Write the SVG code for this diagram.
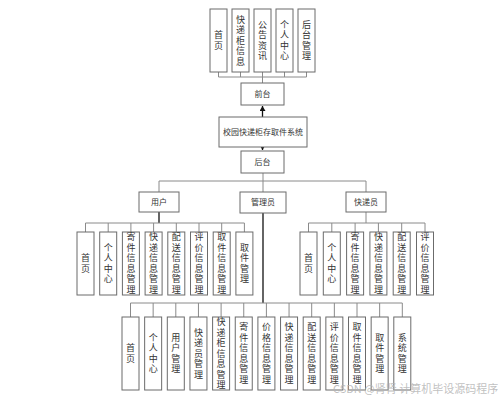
<svg xmlns="http://www.w3.org/2000/svg" width="499" height="400" viewBox="0 0 499 400">
<defs>
<style>
.b{fill:#fff;stroke:#6b6b6b;stroke-width:1}
.t{font-family:"Noto Sans CJK SC","Noto Sans",sans-serif;font-size:8px;fill:#333;text-anchor:middle}
.v{font-family:"Noto Sans CJK SC","Noto Sans",sans-serif;font-size:9px;fill:#333;text-anchor:middle;writing-mode:vertical-rl;letter-spacing:1.5px}
.l{fill:none;stroke:#8a8a8a;stroke-width:1}
.k{fill:none;stroke:#111;stroke-width:1.3}
.wm{font-family:"Noto Sans CJK SC","Noto Sans",sans-serif;font-size:11px;fill:#b4b4b4;fill-opacity:0.85}
</style>
<marker id="ah" markerWidth="6" markerHeight="6" refX="5" refY="3" orient="auto" markerUnits="userSpaceOnUse">
<path d="M0,0 L5,3 L0,6 Z" fill="#111"/>
</marker>
</defs>
<rect width="499" height="400" fill="#fff"/>

<g id="connectors">
<path class="l" d="M218.5,72V77M240.5,72V77M262.5,72V77M284.5,72V77M306.5,72V77M218.5,77H306.5M262.5,77V83"/>
<path class="k" d="M262.5,117V106" marker-end="url(#ah)"/>
<path class="k" d="M262.5,147V150" marker-end="url(#ah)"/>
<path class="l" d="M263,173V192M159,181H366M159,181V192M366,181V192"/>
<path class="k" d="M159,212V223"/>
<path class="l" d="M85.5,223H244.4M85.5,223V232M108.2,223V232M130.9,223V232M153.6,223V232M176.3,223V232M199,223V232M221.7,223V232M244.4,223V232"/>
<path class="l" d="M366,212V223M308.5,223H425M308.5,223V232M331.8,223V232M355.1,223V232M378.4,223V232M401.7,223V232M425,223V232"/>
<path class="k" d="M263,213V303"/>
<path class="l" d="M130.5,303H402.3M130.5,303V317M153.15,303V317M175.8,303V317M198.45,303V317M221.1,303V317M243.75,303V317M266.4,303V317M289.05,303V317M311.7,303V317M334.35,303V317M357,303V317M379.65,303V317M402.3,303V317"/>
</g>

<g id="top-shouye"><rect class="b" x="210" y="9" width="17" height="63"/><text class="v" x="218.5" y="41">首页</text></g>
<g id="top-kuaidigui"><rect class="b" x="232" y="9" width="17" height="63"/><text class="v" x="240.5" y="41">快递柜信息</text></g>
<g id="top-gonggao"><rect class="b" x="254" y="9" width="17" height="63"/><text class="v" x="262.5" y="41">公告资讯</text></g>
<g id="top-geren"><rect class="b" x="276" y="9" width="17" height="63"/><text class="v" x="284.5" y="41">个人中心</text></g>
<g id="top-houtai"><rect class="b" x="298" y="9" width="17" height="63"/><text class="v" x="306.5" y="41">后台管理</text></g>

<g id="qiantai"><rect class="b" x="241" y="83" width="43" height="22"/><text class="t" x="262.5" y="96.8">前台</text></g>
<g id="system"><rect class="b" x="219" y="117" width="88" height="30"/><text class="t" x="263" y="134.8">校园快递柜存取件系统</text></g>
<g id="houtai"><rect class="b" x="241" y="151" width="43" height="22"/><text class="t" x="262.5" y="164.8">后台</text></g>

<g id="yonghu"><rect class="b" x="139" y="192" width="40" height="20"/><text class="t" x="159" y="204.8">用户</text></g>
<g id="guanliyuan"><rect class="b" x="240" y="192" width="46" height="21"/><text class="t" x="263" y="205.3">管理员</text></g>
<g id="kuaidiyuan"><rect class="b" x="346" y="192" width="40" height="20"/><text class="t" x="366" y="204.8">快递员</text></g>

<g id="u1"><rect class="b" x="77" y="232" width="17" height="63"/><text class="v" x="85.5" y="264">首页</text></g>
<g id="u2"><rect class="b" x="99.7" y="232" width="17" height="63"/><text class="v" x="108.2" y="264">个人中心</text></g>
<g id="u3"><rect class="b" x="122.4" y="232" width="17" height="63"/><text class="v" x="130.9" y="264">寄件信息管理</text></g>
<g id="u4"><rect class="b" x="145.1" y="232" width="17" height="63"/><text class="v" x="153.6" y="264">快递信息管理</text></g>
<g id="u5"><rect class="b" x="167.8" y="232" width="17" height="63"/><text class="v" x="176.3" y="264">配送信息管理</text></g>
<g id="u6"><rect class="b" x="190.5" y="232" width="17" height="63"/><text class="v" x="199" y="264">评价信息管理</text></g>
<g id="u7"><rect class="b" x="213.2" y="232" width="17" height="63"/><text class="v" x="221.7" y="264">取件信息管理</text></g>
<g id="u8"><rect class="b" x="235.9" y="232" width="17" height="63"/><text class="v" x="244.4" y="264">取件管理</text></g>

<g id="c1"><rect class="b" x="300" y="232" width="17" height="63"/><text class="v" x="308.5" y="264">首页</text></g>
<g id="c2"><rect class="b" x="323.3" y="232" width="17" height="63"/><text class="v" x="331.8" y="264">个人中心</text></g>
<g id="c3"><rect class="b" x="346.6" y="232" width="17" height="63"/><text class="v" x="355.1" y="264">寄件信息管理</text></g>
<g id="c4"><rect class="b" x="369.9" y="232" width="17" height="63"/><text class="v" x="378.4" y="264">快递信息管理</text></g>
<g id="c5"><rect class="b" x="393.2" y="232" width="17" height="63"/><text class="v" x="401.7" y="264">配送信息管理</text></g>
<g id="c6"><rect class="b" x="416.5" y="232" width="17" height="63"/><text class="v" x="425" y="264">评价信息管理</text></g>

<g id="a1"><rect class="b" x="122" y="317" width="17" height="73"/><text class="v" x="130.5" y="354">首页</text></g>
<g id="a2"><rect class="b" x="144.65" y="317" width="17" height="73"/><text class="v" x="153.15" y="354">个人中心</text></g>
<g id="a3"><rect class="b" x="167.3" y="317" width="17" height="73"/><text class="v" x="175.8" y="354">用户管理</text></g>
<g id="a4"><rect class="b" x="189.95" y="317" width="17" height="73"/><text class="v" x="198.45" y="354">快递员管理</text></g>
<g id="a5"><rect class="b" x="212.6" y="317" width="17" height="73"/><text class="v" x="221.1" y="354">快递柜信息管理</text></g>
<g id="a6"><rect class="b" x="235.25" y="317" width="17" height="73"/><text class="v" x="243.75" y="354">寄件信息管理</text></g>
<g id="a7"><rect class="b" x="257.9" y="317" width="17" height="73"/><text class="v" x="266.4" y="354">价格信息管理</text></g>
<g id="a8"><rect class="b" x="280.55" y="317" width="17" height="73"/><text class="v" x="289.05" y="354">快递信息管理</text></g>
<g id="a9"><rect class="b" x="303.2" y="317" width="17" height="73"/><text class="v" x="311.7" y="354">配送信息管理</text></g>
<g id="a10"><rect class="b" x="325.85" y="317" width="17" height="73"/><text class="v" x="334.35" y="354">评价信息管理</text></g>
<g id="a11"><rect class="b" x="348.5" y="317" width="17" height="73"/><text class="v" x="357" y="354">取件信息管理</text></g>
<g id="a12"><rect class="b" x="371.15" y="317" width="17" height="73"/><text class="v" x="379.65" y="354">取件管理</text></g>
<g id="a13"><rect class="b" x="393.8" y="317" width="17" height="73"/><text class="v" x="402.3" y="354">系统管理</text></g>

<text class="wm" x="333" y="393">CSDN @肾肾 计算机毕设源码程序</text>
</svg>
